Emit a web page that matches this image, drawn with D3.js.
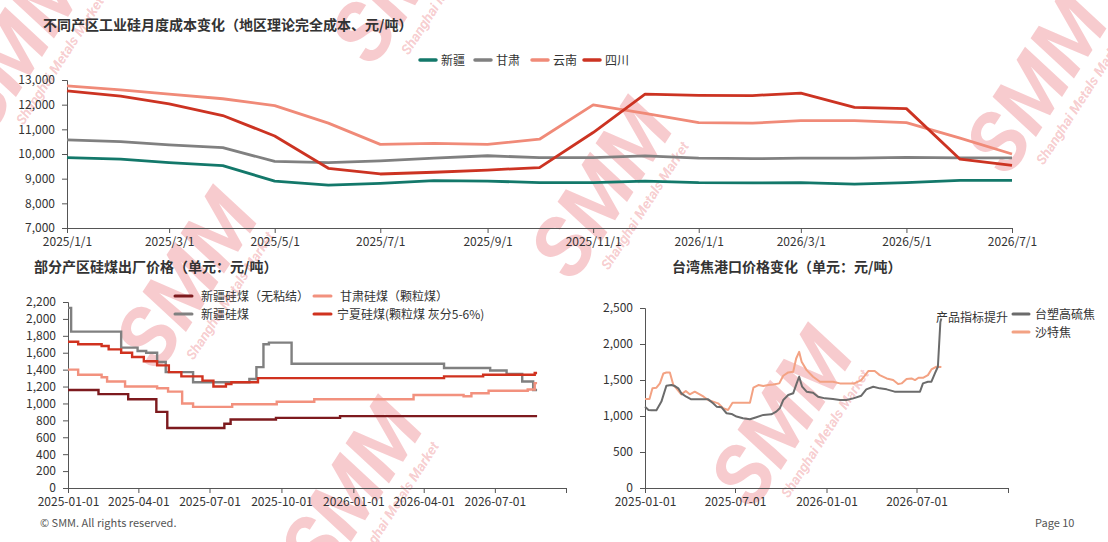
<!DOCTYPE html>
<html lang="zh">
<head>
<meta charset="UTF-8">
<script src="https://d3js.org/d3.v7.min.js"></script>
<title>工业硅成本</title>
<style>
    body { margin: 0; background: #fff; font-family: "Noto Sans CJK SC", "Noto Sans", sans-serif; }
    svg { display: block; }
    .axis path, .axis line { stroke: #555; }
    .axis text { fill: #333; font-size: 12px; font-family: "Noto Sans CJK SC", sans-serif; }
    .title { font-size: 14px; font-weight: bold; fill: #333; }
    .legend { font-size: 12px; fill: #333; }
</style>
</head>
<body>
<script>
// ---- top chart: monthly cost by region
const costMonths = ["2025-01-01","2025-02-01","2025-03-01","2025-04-01","2025-05-01","2025-06-01","2025-07-01",
    "2025-08-01","2025-09-01","2025-10-01","2025-11-01","2025-12-01","2026-01-01","2026-02-01","2026-03-01",
    "2026-04-01","2026-05-01","2026-06-01","2026-07-01"];
const costXinjiang = [9850, 9790, 9650, 9530, 8900, 8740, 8810, 8920, 8900, 8840, 8840, 8900, 8840, 8830, 8840, 8780, 8840, 8930, 8930];
const costGansu    = [10570, 10500, 10370, 10260, 9700, 9650, 9720, 9830, 9930, 9850, 9850, 9920, 9830, 9810, 9830, 9830, 9860, 9840, 9840];
const costYunnan   = [12760, 12600, 12430, 12240, 11960, 11250, 10390, 10430, 10390, 10600, 11990, 11650, 11270, 11250, 11350, 11350, 11270, 10640, 10000];
const costSichuan  = [12560, 12350, 12030, 11560, 10730, 9420, 9190, 9260, 9350, 9450, 10870, 12430, 12380, 12370, 12470, 11890, 11840, 9790, 9540];
const costNames = ["新疆", "甘肃", "云南", "四川"];
const costTicks = ["2025-01-01","2025-03-01","2025-05-01","2025-07-01","2025-09-01","2025-11-01","2026-01-01","2026-03-01","2026-05-01","2026-07-01"];

// ---- bottom left: silicon coal ex-works price (step series)
const coalXjNbDates = ["2025-01-01","2025-02-09","2025-03-19","2025-04-24","2025-05-08","2025-07-20","2025-07-28","2025-09-24","2025-12-15","2026-08-24"];
const coalXjNbValues = [1160, 1110, 1050, 900, 710, 760, 810, 830, 850, 850];
const coalGsDates = ["2025-01-01","2025-01-14","2025-02-13","2025-02-20","2025-03-15","2025-04-25","2025-05-09","2025-05-27","2025-06-10",
    "2025-07-30","2025-09-25","2025-11-12","2026-03-19","2026-05-22","2026-06-01","2026-06-23","2026-08-12","2026-08-21","2026-08-24"];
const coalGsValues = [1400, 1340, 1310, 1260, 1200, 1180, 1140, 1000, 960, 990, 1020, 1050, 1100, 1085, 1120, 1150, 1165, 1240, 1240];
const coalXjDates = ["2025-01-01","2025-01-05","2025-03-10","2025-03-31","2025-04-11","2025-04-25","2025-05-06","2025-06-10","2025-08-21",
    "2025-08-30","2025-09-08","2025-09-15","2025-10-14","2026-04-27","2026-06-25","2026-07-16","2026-08-05","2026-08-19","2026-08-24"];
const coalXjValues = [2130, 1850, 1660, 1620, 1600, 1490, 1370, 1250, 1290, 1430, 1700, 1720, 1470, 1420, 1390, 1350, 1260, 1160, 1160];
const coalNxDates = ["2025-01-01","2025-01-14","2025-02-13","2025-02-22","2025-03-10","2025-03-24","2025-04-08","2025-04-25","2025-05-10",
    "2025-05-26","2025-06-22","2025-07-06","2025-07-22","2025-07-29","2025-09-01","2026-04-27","2026-06-16","2026-08-21","2026-08-24"];
const coalNxValues = [1730, 1700, 1680, 1640, 1600, 1550, 1500, 1450, 1370, 1320, 1270, 1200, 1230, 1250, 1300, 1320, 1340, 1360, 1360];
const coalNames = ["新疆硅煤（无粘结）", "甘肃硅煤（颗粒煤）", "新疆硅煤", "宁夏硅煤(颗粒煤 灰分5-6%)"];
const coalTicks = ["2025-01-01","2025-04-01","2025-07-01","2025-10-01","2026-01-01","2026-04-01","2026-07-01"];

// ---- bottom right: Taiwan coke port price
const cokeTsDates = ["2025-01-01","2025-01-08","2025-01-14","2025-01-24","2025-02-03","2025-02-13","2025-02-23","2025-03-02","2025-03-09",
    "2025-03-15","2025-03-25","2025-04-04","2025-04-21","2025-05-08","2025-05-18","2025-05-25","2025-06-04","2025-06-14","2025-06-24",
    "2025-07-04","2025-07-17","2025-07-31","2025-08-13","2025-08-27","2025-09-12","2025-09-22","2025-09-29","2025-10-06","2025-10-16",
    "2025-10-26","2025-11-02","2025-11-07","2025-11-13","2025-11-22","2025-12-05","2025-12-15","2025-12-29","2026-01-14","2026-01-28",
    "2026-02-10","2026-02-24","2026-03-12","2026-03-22","2026-04-05","2026-04-18","2026-05-02","2026-05-18","2026-06-04","2026-06-21",
    "2026-07-08","2026-07-14","2026-07-24","2026-07-31","2026-08-07","2026-08-13","2026-08-18","2026-08-20"];
const cokeTsValues = [1130, 1084, 1080, 1080, 1200, 1420, 1430, 1416, 1384, 1315, 1268, 1231, 1231, 1231, 1176, 1130, 1120, 1038, 1029,
    992, 969, 955, 983, 1015, 1024, 1061, 1107, 1222, 1292, 1315, 1453, 1545, 1407, 1338, 1324, 1268, 1245, 1236, 1222,
    1222, 1245, 1282, 1370, 1407, 1384, 1370, 1338, 1338, 1338, 1338, 1453, 1476, 1476, 1591, 1684, 2306, 2353];
const cokeSaDates = ["2025-01-01","2025-01-10","2025-01-16","2025-01-24","2025-01-31","2025-02-07","2025-02-13","2025-02-20","2025-02-27",
    "2025-03-05","2025-03-15","2025-03-24","2025-04-01","2025-04-11","2025-04-21","2025-04-29","2025-05-08","2025-05-18","2025-05-28",
    "2025-06-07","2025-06-17","2025-06-26","2025-07-04","2025-07-17","2025-07-31","2025-08-07","2025-08-17","2025-08-27","2025-09-06",
    "2025-09-16","2025-09-28","2025-10-06","2025-10-16","2025-10-26","2025-11-01","2025-11-07","2025-11-12","2025-11-22","2025-12-05",
    "2025-12-19","2026-01-01","2026-01-14","2026-01-28","2026-02-10","2026-02-26","2026-03-12","2026-03-26","2026-04-08","2026-04-18",
    "2026-05-02","2026-05-15","2026-05-25","2026-06-01","2026-06-11","2026-06-21","2026-06-28","2026-07-05","2026-07-14","2026-07-24",
    "2026-07-31","2026-08-10","2026-08-20"];
const cokeSaValues = [1236, 1236, 1384, 1393, 1453, 1591, 1605, 1605, 1430, 1384, 1301, 1347, 1301, 1338, 1301, 1268, 1222, 1199, 1176,
    1107, 1084, 1185, 1185, 1185, 1185, 1393, 1430, 1416, 1430, 1439, 1453, 1559, 1605, 1614, 1799, 1891, 1753, 1637, 1545,
    1476, 1476, 1476, 1453, 1453, 1453, 1499, 1624, 1624, 1568, 1522, 1499, 1444, 1453, 1513, 1522, 1499, 1531, 1531, 1568,
    1647, 1684, 1679];
const cokeNames = ["台塑高硫焦", "沙特焦"];
const cokeTicks = ["2025-01-01","2025-07-01","2026-01-01","2026-07-01"];

const parse = d3.timeParse("%Y-%m-%d");
const svg = d3.select("body").append("svg").attr("width", 1108).attr("height", 542);

// helper: draw a pair of axes
function drawAxes(x, y, tickDates, fmt, yTicks, endTick) {
    const tv = tickDates.map(parse);
    if (endTick) tv.push(x.domain()[1]);
    svg.append("g").attr("class", "axis")
        .attr("transform", `translate(0,${y.range()[0]})`)
        .call(d3.axisBottom(x).tickValues(tv).tickSize(5).tickPadding(4)
            .tickFormat((d, i) => i < tickDates.length ? fmt(d) : ""));
    svg.append("g").attr("class", "axis")
        .attr("transform", `translate(${x.range()[0]},0)`)
        .call(d3.axisLeft(y).tickValues(yTicks).tickSize(5).tickPadding(7).tickFormat(d3.format(",")));
}

// watermarks (drawn first, lines go over them)
const marks = [[25, 50], [410, -20], [1045, 90], [195, 285], [610, 195], [790, 423], [360, 495]];
marks.forEach(([cx, cy]) => {
    const g = svg.append("g").attr("transform", `translate(${cx},${cy}) rotate(-57)`)
        .attr("fill", "#e0404a").attr("fill-opacity", 0.27).attr("pointer-events", "none");
    g.append("text").attr("text-anchor", "middle").attr("y", 18)
        .attr("font-size", 82).attr("font-weight", "bold").attr("font-style", "italic")
        .attr("font-family", "Roboto, sans-serif").text("SMM");
    g.append("text").attr("text-anchor", "middle").attr("x", 10).attr("y", 40)
        .attr("font-size", 14).attr("font-weight", "bold").attr("font-style", "italic")
        .attr("font-family", "Roboto, sans-serif").text("Shanghai Metals Market");
});

// ========== top chart
svg.append("text").attr("class", "title").attr("x", 43).attr("y", 30)
    .text("不同产区工业硅月度成本变化（地区理论完全成本、元/吨）");

const x1 = d3.scaleTime().domain([parse("2025-01-01"), parse("2026-07-01")]).range([67, 1012]);
const y1 = d3.scaleLinear().domain([7000, 13000]).range([228, 80]);
drawAxes(x1, y1, costTicks, d3.timeFormat("%Y/%-m/%-d"), d3.range(7000, 13001, 1000), false);

const costColors = ["#13786a", "#808080", "#f08a78", "#cc3322"];
const costSeries = [costXinjiang, costGansu, costYunnan, costSichuan];
const line1 = d3.line().x((d, i) => x1(parse(costMonths[i]))).y(d => y1(d));
costSeries.forEach((s, k) => {
    svg.append("path").datum(s).attr("d", line1)
        .attr("fill", "none").attr("stroke", costColors[k]).attr("stroke-width", 2.8)
        .attr("stroke-linejoin", "round");
});
const legX1 = [420, 475, 532, 584];
costNames.forEach((n, k) => {
    svg.append("line").attr("x1", legX1[k]).attr("x2", legX1[k] + 16).attr("y1", 60).attr("y2", 60)
        .attr("stroke", costColors[k]).attr("stroke-width", 3.5).attr("stroke-linecap", "round");
    svg.append("text").attr("class", "legend").attr("x", legX1[k] + 21).attr("y", 64.5).text(n);
});

// ========== bottom left chart
svg.append("text").attr("class", "title").attr("x", 34).attr("y", 272)
    .text("部分产区硅煤出厂价格（单元：元/吨）");

const x2 = d3.scaleTime().domain([parse("2025-01-01"), parse("2026-09-30")]).range([68, 566]);
const y2 = d3.scaleLinear().domain([0, 2200]).range([488, 302]);
drawAxes(x2, y2, coalTicks, d3.timeFormat("%Y-%m-%d"), d3.range(0, 2201, 200), true);

const coalColors = ["#7d1a1e", "#f2917e", "#808080", "#d0321f"];
const coalSeries = [
    [coalXjNbDates, coalXjNbValues],
    [coalGsDates, coalGsValues],
    [coalXjDates, coalXjValues],
    [coalNxDates, coalNxValues]
];
const drawOrder2 = [2, 1, 3, 0];
drawOrder2.forEach(k => {
    const [ds, vs] = coalSeries[k];
    const line2 = d3.line().curve(d3.curveStepAfter)
        .x((d, i) => x2(parse(ds[i]))).y(d => y2(d));
    svg.append("path").datum(vs).attr("d", line2)
        .attr("fill", "none").attr("stroke", coalColors[k]).attr("stroke-width", 2.4);
});
const legPos2 = [[175, 296], [314, 296], [175, 314], [314, 314]];
coalNames.forEach((n, k) => {
    const [lx, ly] = legPos2[k];
    svg.append("line").attr("x1", lx).attr("x2", lx + 17).attr("y1", ly).attr("y2", ly)
        .attr("stroke", coalColors[k]).attr("stroke-width", 3).attr("stroke-linecap", "round");
    svg.append("text").attr("class", "legend").attr("x", lx + (k === 3 ? 23 : 26)).attr("y", ly + 4.5).text(n);
});

// ========== bottom right chart
svg.append("text").attr("class", "title").attr("x", 672).attr("y", 272)
    .text("台湾焦港口价格变化（单元：元/吨）");

const x3 = d3.scaleTime().domain([parse("2025-01-01"), parse("2027-01-01")]).range([645, 1008]);
const y3 = d3.scaleLinear().domain([0, 2500]).range([488, 308]);
drawAxes(x3, y3, cokeTicks, d3.timeFormat("%Y-%m-%d"), d3.range(0, 2501, 500), true);

const cokeColors = ["#6b6b6b", "#f3a283"];
const cokeSeries = [[cokeTsDates, cokeTsValues], [cokeSaDates, cokeSaValues]];
[1, 0].forEach(k => {
    const [ds, vs] = cokeSeries[k];
    const line3 = d3.line().x((d, i) => x3(parse(ds[i]))).y(d => y3(d));
    svg.append("path").datum(vs).attr("d", line3)
        .attr("fill", "none").attr("stroke", cokeColors[k]).attr("stroke-width", 2)
        .attr("stroke-linejoin", "round");
});
cokeNames.forEach((n, k) => {
    const ly = 314 + k * 18;
    svg.append("line").attr("x1", 1013).attr("x2", 1029).attr("y1", ly).attr("y2", ly)
        .attr("stroke", cokeColors[k]).attr("stroke-width", 3).attr("stroke-linecap", "round");
    svg.append("text").attr("class", "legend").attr("x", 1035).attr("y", ly + 4.5).text(n);
});
svg.append("text").attr("class", "legend").attr("x", 1008).attr("y", 322)
    .attr("text-anchor", "end").text("产品指标提升");

// footer
svg.append("text").attr("x", 40).attr("y", 527).attr("font-size", 11).attr("fill", "#555").text("© SMM. All rights reserved.");
svg.append("text").attr("x", 1035).attr("y", 527).attr("font-size", 11).attr("fill", "#555").text("Page 10");
</script>
</body>
</html>
